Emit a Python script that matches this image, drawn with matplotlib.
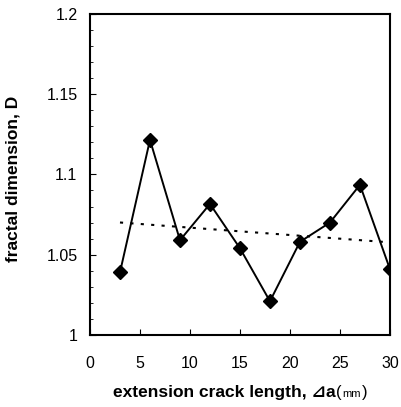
import numpy as np
import matplotlib
matplotlib.use("Agg")
import matplotlib.pyplot as plt
from matplotlib.ticker import MultipleLocator
from matplotlib.offsetbox import TextArea, HPacker, AnchoredOffsetbox

plt.rcParams["font.family"] = ["Liberation Sans", "DejaVu Sans", "Noto Sans CJK JP"]

# crack extension length (mm) and fractal dimension
crack_len = [3, 6, 9, 12, 15, 18, 21, 24, 27, 30]
fractal_d = [1.039, 1.1215, 1.059, 1.0816, 1.054, 1.021, 1.058, 1.070, 1.0935, 1.041]

x_ticks = [0, 5, 10, 15, 20, 25, 30]
y_ticks = [1, 1.05, 1.1, 1.15, 1.2]
y_tick_labels = ["1", "1.05", "1.1", "1.15", "1.2"]

fig = plt.figure(figsize=(4.01, 4.07), dpi=100)
ax = fig.add_axes([0.2244, 0.177, 0.748, 0.789])

ax.plot(crack_len, fractal_d, color="black", lw=1.4, marker="D", ms=7,
        mfc="black", mec="black", zorder=3)

# linear trend line
k, b = np.polyfit(crack_len, fractal_d, 1)
xt = np.array([crack_len[0], crack_len[-1]])
ax.plot(xt, k * xt + b, color="black", lw=1.5, ls=(0, (1.5, 3.5)), zorder=2)

ax.set_xlim(0, 30)
ax.set_ylim(1, 1.2)
ax.set_xticks(x_ticks)
ax.set_yticks(y_ticks)
ax.set_yticklabels(y_tick_labels)
ax.yaxis.set_minor_locator(MultipleLocator(0.01))
ax.tick_params(direction="in", length=4, width=0.8, labelsize=11.5, pad=9,
               colors="black")
ax.tick_params(axis="y", which="minor", direction="in", length=2.5, width=0.6)
ax.tick_params(axis="x", pad=15)
for s in ax.spines.values():
    s.set_linewidth(1.5)

ax.set_ylabel("fractal dimension, D", fontsize=12.5, fontweight="bold")
ax.yaxis.set_label_coords(-0.23, 0.485)

# x label with smaller mm inside normal-size parentheses
parts = [
    TextArea("extension crack length, ⊿a", textprops=dict(fontsize=12.5, fontweight="bold")),
    TextArea("(", textprops=dict(fontsize=12)),
    TextArea("mm", textprops=dict(fontsize=8)),
    TextArea(")", textprops=dict(fontsize=12)),
]
lab = HPacker(children=parts, align="baseline", pad=0, sep=0.5)
box = AnchoredOffsetbox(loc="center", child=lab, frameon=False,
                        bbox_to_anchor=(0.5, -0.178),
                        bbox_transform=ax.transAxes, borderpad=0)
ax.add_artist(box)

fig.savefig("out.png", dpi=100)
